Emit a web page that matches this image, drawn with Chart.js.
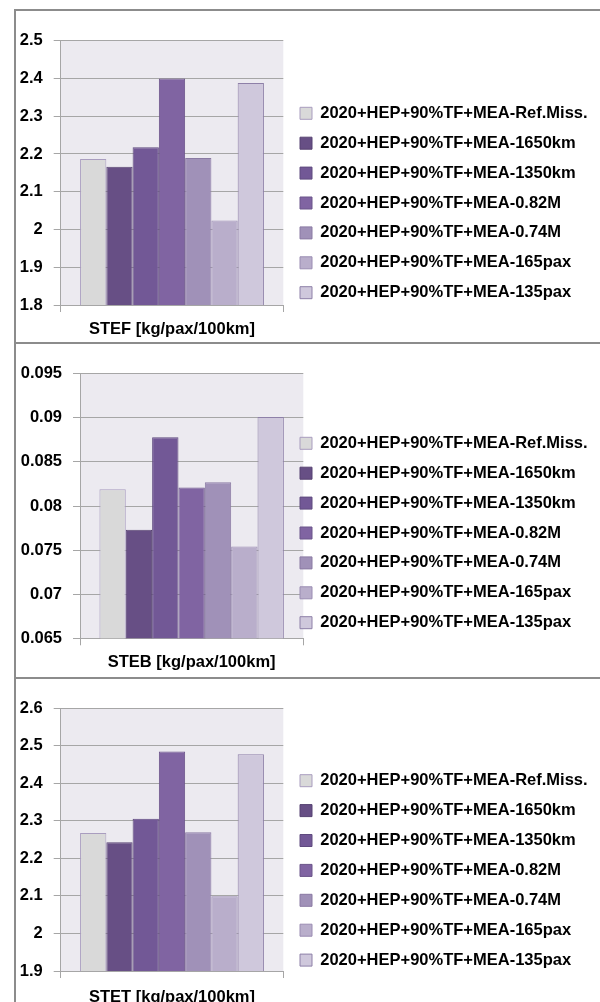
<!DOCTYPE html>
<html>
<head>
<meta charset="utf-8">
<script src="https://cdn.jsdelivr.net/npm/chart.js@4"></script>
<style>
  html, body { margin: 0; padding: 0; background: #fff; overflow: hidden; }
  body { width: 600px; height: 1002px; position: relative; }
  .panel { position: absolute; left: 14px; width: 584px; border-top: 2px solid #8c8c8c; border-left: 2px solid #8c8c8c; }
  canvas { display: block; }
</style>
</head>
<body>
<div class="panel" style="top:9px"><canvas id="stefChart" width="584" height="331"></canvas></div>
<div class="panel" style="top:342px"><canvas id="stebChart" width="584" height="333"></canvas></div>
<div class="panel" style="top:677px"><canvas id="stetChart" width="584" height="333"></canvas></div>
<script>
// Series names (legend), one bar per series in each panel
const series = [
  "2020+HEP+90%TF+MEA-Ref.Miss.",
  "2020+HEP+90%TF+MEA-1650km",
  "2020+HEP+90%TF+MEA-1350km",
  "2020+HEP+90%TF+MEA-0.82M",
  "2020+HEP+90%TF+MEA-0.74M",
  "2020+HEP+90%TF+MEA-165pax",
  "2020+HEP+90%TF+MEA-135pax"
];

// Values
const stef = [2.187, 2.166, 2.218, 2.400, 2.189, 2.024, 2.388];
const steb = [0.0819, 0.0773, 0.0878, 0.0821, 0.0827, 0.0754, 0.0901];
const stet = [2.267, 2.243, 2.305, 2.484, 2.269, 2.099, 2.477];

// Axis ranges [min, max, step]
const stefAxis = [1.8, 2.5, 0.1];
const stebAxis = [0.065, 0.095, 0.005];
const stetAxis = [1.9, 2.6, 0.1];

// Colours
const fills = ["#D9D9D9", "#674F85", "#725896", "#8064A2", "#A091B8", "#B9AECB", "#CFC8DC"];
const edges = ["#A99DBF", "#574372", "#5F4A7F", "#6B548A", "#8A7AA3", "#9A8CB2", "#8E80A8"];

const FONT = { family: "'Liberation Sans', Arial, sans-serif", size: 16.5, weight: "bold" };
const LINE = "#A6A6A6";
const LEGEND_PAD = 13.4;

// grey plot area behind the bars
const plotBg = {
  id: "plotBg",
  beforeDraw(chart) {
    const { ctx, chartArea: a } = chart;
    ctx.save();
    ctx.fillStyle = "#ECEAF0";
    ctx.fillRect(a.left, a.top, a.right - a.left, a.bottom - a.top);
    ctx.restore();
  }
};

// put the legend where Excel had it
const legendSpot = {
  id: "legendSpot",
  afterLayout(chart, args, opts) {
    const lg = chart.legend;
    lg.left = opts.x;
    lg.top = opts.y;
    lg.right = chart.width;
    lg.bottom = chart.height;
    lg.width = lg.right - lg.left;
    lg.height = lg.bottom - lg.top;
  }
};

function makeChart(id, values, title, axis, box) {
  const canvas = document.getElementById(id);
  const H = canvas.height;
  const W = canvas.width;
  const titlePad = H - FONT.size * 1.2 / 2 - 318.5;
  return new Chart(canvas, {
    type: "bar",
    data: {
      labels: [""],
      datasets: series.map((name, i) => ({
        label: name,
        data: [values[i]],
        backgroundColor: fills[i],
        borderColor: edges[i],
        borderWidth: 1,
        borderSkipped: false,
        categoryPercentage: 0.826,
        barPercentage: 1
      }))
    },
    options: {
      responsive: false,
      animation: false,
      layout: { padding: { top: box.top, left: 0, right: W - box.right - 10, bottom: 0 } },
      scales: {
        x: {
          ticks: { display: false },
          grid: { color: LINE, drawOnChartArea: false, tickLength: 7 },
          border: { color: LINE },
          title: { display: true, text: title, color: "#000", font: FONT, padding: { top: 0, bottom: titlePad } },
          afterFit: s => { s.height = H - box.bottom; }
        },
        y: {
          min: axis[0],
          max: axis[1],
          ticks: {
            stepSize: axis[2],
            padding: 11,
            color: "#000",
            font: FONT,
            callback: v => String(+v.toFixed(4))
          },
          grid: { color: LINE, tickLength: 7 },
          border: { color: LINE },
          afterFit: s => { s.width = box.left; }
        }
      },
      plugins: {
        tooltip: { enabled: false },
        legend: {
          position: "right",
          align: "start",
          maxWidth: 10,
          labels: {
            color: "#000",
            font: FONT,
            boxWidth: 12,
            boxHeight: 12,
            padding: LEGEND_PAD
          }
        },
        legendSpot: { x: 284 - LEGEND_PAD, y: box.legendRow - FONT.size / 2 - LEGEND_PAD }
      }
    },
    plugins: [plotBg, legendSpot]
  });
}

makeChart("stefChart", stef, "STEF [kg/pax/100km]", stefAxis,
  { left: 44.7, top: 29.7, right: 267.3, bottom: 294, legendRow: 102.3 });
makeChart("stebChart", steb, "STEB [kg/pax/100km]", stebAxis,
  { left: 64, top: 29.7, right: 287.3, bottom: 294.3, legendRow: 99.3 });
makeChart("stetChart", stet, "STET [kg/pax/100km]", stetAxis,
  { left: 44.7, top: 29, right: 267.3, bottom: 292, legendRow: 101.7 });
</script>
</body>
</html>
